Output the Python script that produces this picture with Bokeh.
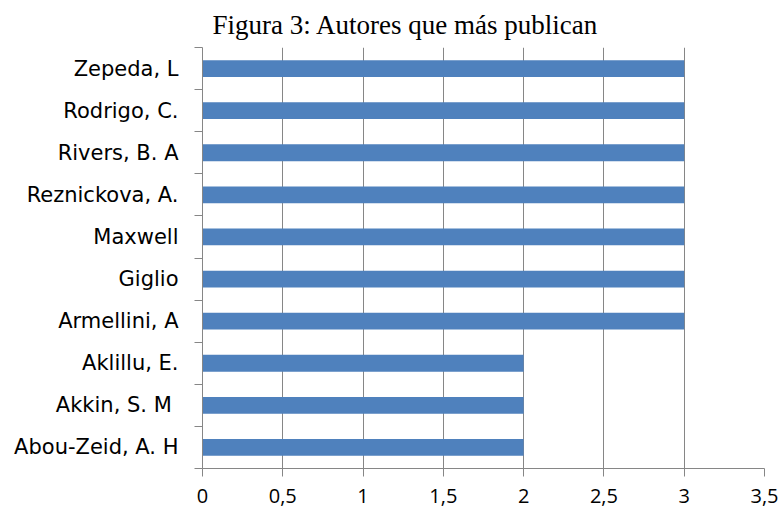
from bokeh.plotting import figure
from bokeh.models import Range1d, FixedTicker
from bokeh.embed import file_html
from bokeh.resources import INLINE

autores = ["Abou-Zeid, A. H", "Akkin,  S. M", "Aklillu, E.", "Armellini, A", "Giglio",
           "Maxwell", "Reznickova, A.", "Rivers, B. A", "Rodrigo, C.", "Zepeda, L"]
publicaciones = [2, 2, 2, 3, 3, 3, 3, 3, 3, 3]
x_ticks = [0, 0.5, 1, 1.5, 2, 2.5, 3, 3.5]
x_labels = ["0", "0,5", "1", "1,5", "2", "2,5", "3", "3,5"]

n = len(autores)
centers = [i + 0.5 for i in range(n)]

p = figure(width=778, height=508, output_backend="svg", toolbar_location=None,
           x_range=Range1d(0, 3.5), y_range=Range1d(0, n),
           min_border_left=202, min_border_right=14, min_border_top=46, min_border_bottom=40)
p.title.text = "Figura 3: Autores que más publican"
p.title.text_font = "Liberation Serif"
p.title.text_font_size = "27px"
p.title.text_font_style = "normal"
p.title.text_color = "#000000"
p.title.align = "left"
p.title.offset = 10
p.title.standoff = 15
p.outline_line_color = None

p.hbar(y=centers, right=publicaciones, left=0, height=0.4, color="#4F81BD", line_color=None)

# x axis
p.xaxis.ticker = FixedTicker(ticks=x_ticks)
p.xaxis.major_label_overrides = {float(t): l for t, l in zip(x_ticks, x_labels)}
p.xaxis.major_label_overrides.update({int(t): l for t, l in zip(x_ticks, x_labels) if float(t).is_integer()})
p.xaxis.axis_line_color = "#868686"
p.xaxis.major_tick_line_color = "#868686"
p.xaxis.major_tick_out = 8
p.xaxis.major_tick_in = 0
p.xaxis.minor_tick_line_color = None
p.xaxis.major_label_text_font = "Open Sans"
p.xaxis.major_label_text_font_size = "20px"
p.xaxis.major_label_text_color = "#000000"
p.xaxis.major_label_standoff = 12

# y axis
p.yaxis.ticker = FixedTicker(ticks=centers, minor_ticks=list(range(n + 1)))
p.yaxis.major_label_overrides = {c: a for c, a in zip(centers, autores)}
p.yaxis.axis_line_color = "#868686"
p.yaxis.major_tick_line_color = None
p.yaxis.major_tick_out = 0
p.yaxis.major_tick_in = 0
p.yaxis.minor_tick_line_color = "#868686"
p.yaxis.minor_tick_out = 8
p.yaxis.minor_tick_in = 0
p.yaxis.major_label_text_font = "DejaVu Sans"
p.yaxis.major_label_text_font_size = "21px"
p.yaxis.major_label_text_color = "#000000"
p.yaxis.major_label_standoff = 16

p.xgrid.ticker = FixedTicker(ticks=x_ticks)
p.xgrid.grid_line_color = "#868686"
p.xgrid.grid_line_width = 1
p.ygrid.grid_line_color = None

open("out.html", "w").write(file_html(p, INLINE))
